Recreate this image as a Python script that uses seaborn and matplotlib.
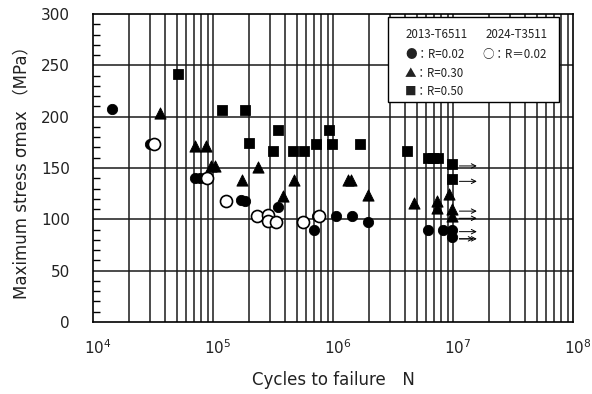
import numpy as np
import pandas as pd
import matplotlib
matplotlib.use("Agg")
import matplotlib.pyplot as plt
import matplotlib.transforms as mtransforms
from matplotlib.patches import Rectangle
import seaborn as sns

# ---- fatigue test results: cycles to failure N, maximum stress (MPa) ----
a2013_r002_N = [1.44e4, 2.98e4, 7.1e4, 7.8e4, 8.6e4, 1.7e5, 1.85e5, 3.46e5, 6.95e5,
                7.4e5, 1.05e6, 1.43e6, 1.95e6, 6.2e6, 8.3e6, 9.75e6, 9.75e6]
a2013_r002_S = [207, 173, 140, 140, 140, 119, 118, 112, 90,
                103, 103, 103, 97, 90, 90, 90, 83]

a2024_r002_N = [3.25e4, 8.9e4, 1.28e5, 2.31e5, 2.89e5, 2.89e5, 3.35e5, 5.66e5, 7.65e5]
a2024_r002_S = [173, 140, 118, 103, 104, 98, 97, 97, 103]

a2013_r030_N = [3.6e4, 7.08e4, 8.7e4, 9.7e4, 1.03e5, 1.73e5, 2.35e5, 3.85e5, 4.76e5,
                1.33e6, 1.41e6, 1.97e6, 4.76e6, 7.4e6, 7.4e6, 9.26e6, 9.75e6, 9.75e6]
a2013_r030_S = [204, 171, 171, 152, 152, 138, 151, 123, 138,
                138, 138, 124, 116, 118, 111, 125, 110, 103]

a2013_r050_N = [5.1e4, 1.18e5, 1.85e5, 2.0e5, 3.14e5, 3.46e5, 4.67e5, 5.77e5, 7.2e5,
                9.3e5, 9.75e5, 1.68e6, 4.16e6, 6.15e6, 6.78e6, 7.46e6, 9.75e6, 9.75e6]
a2013_r050_S = [242, 206.5, 206.5, 174, 167, 187, 167, 167, 173,
                187, 173, 173, 167, 160, 160, 160, 154, 139]

# run-outs (specimens that did not fail): N, stress, number of arrow heads
runout_N = [9.75e6, 9.75e6, 9.75e6, 9.75e6, 9.75e6, 9.75e6]
runout_S = [154, 139, 110, 103, 90, 83]
runout_heads = [1, 1, 1, 1, 1, 2]

series_names = ["2013 R=0.02", "2024 R=0.02", "2013 R=0.30", "2013 R=0.50"]

frames = []
for name, n, s in zip(series_names,
                      [a2013_r002_N, a2024_r002_N, a2013_r030_N, a2013_r050_N],
                      [a2013_r002_S, a2024_r002_S, a2013_r030_S, a2013_r050_S]):
    frames.append(pd.DataFrame({"N": n, "S": s, "series": name}))
df = pd.concat(frames, ignore_index=True)

sns.set_theme(style="ticks")
plt.rcParams["font.family"] = ["DejaVu Sans", "Noto Sans CJK JP"]
plt.rcParams["mathtext.default"] = "regular"
plt.rcParams["text.color"] = "#222222"
plt.rcParams["axes.labelcolor"] = "#222222"
plt.rcParams["xtick.labelcolor"] = "#222222"
plt.rcParams["ytick.labelcolor"] = "#222222"

fig = plt.figure(figsize=(5.92, 3.94), dpi=100)
ax = fig.add_axes([93 / 592, 1 - 322 / 394, 480 / 592, 308 / 394])

ax.set_xscale("log")
ax.set_xlim(1e4, 1e8)
ax.set_ylim(0, 300)

# grid: every log minor line and every 50 MPa
for dec in [1e4, 1e5, 1e6, 1e7]:
    for k in range(1, 10):
        if dec * k > 1e4:
            ax.axvline(dec * k, color="#1a1a1a", lw=1.1, zorder=1)
for yv in [50, 100, 150, 200, 250]:
    ax.axhline(yv, color="#1a1a1a", lw=1.1, zorder=1)

styles = {
    "2013 R=0.02": dict(marker="o", s=55, color="black", edgecolor="black"),
    "2024 R=0.02": dict(marker="o", s=75, color="white", edgecolor="black", linewidth=1.2),
    "2013 R=0.30": dict(marker="^", s=65, color="black", edgecolor="black"),
    "2013 R=0.50": dict(marker="s", s=50, color="black", edgecolor="black"),
}
for name in series_names:
    sub = df[df["series"] == name]
    sns.scatterplot(data=sub, x="N", y="S", ax=ax, legend=False, zorder=3, **styles[name])

# run-out arrows
for n, s, h in zip(runout_N, runout_S, runout_heads):
    for j in range(h):
        ax.annotate("", xy=(1.58e7 - j * 0.09e7, s - 2), xytext=(1.13e7, s - 2),
                    arrowprops=dict(arrowstyle="->", color="black", lw=0.7,
                                    shrinkA=0, shrinkB=0, mutation_scale=8),
                    zorder=4)

# ticks
ax.set_xticks([1e4, 1e5, 1e6, 1e7, 1e8])
ax.set_xticklabels([r"$10^{4}$", r"$10^{5}$", r"$10^{6}$", r"$10^{7}$", r"$10^{8}$"])
ax.xaxis.set_minor_locator(matplotlib.ticker.NullLocator())
ax.set_yticks(np.arange(0, 301, 50))
ax.set_yticks(np.arange(0, 301, 10), minor=True)
ax.tick_params(axis="y", which="major", direction="in", length=0, labelsize=11, pad=16.5)
ax.tick_params(axis="y", which="minor", direction="in", length=5, width=1.0, color="black")
ax.tick_params(axis="x", which="major", direction="in", length=0, labelsize=11, pad=12)
offset = mtransforms.ScaledTranslation(5 / 100, 0, fig.dpi_scale_trans)
for lbl in ax.get_xticklabels():
    lbl.set_transform(lbl.get_transform() + offset)

for sp in ax.spines.values():
    sp.set_color("black")
    sp.set_linewidth(1.2)
    sp.set_visible(True)

ax.set_xlabel("Cycles to failure\u3000N", fontsize=12, labelpad=10)
ax.set_ylabel("Maximum stress σmax （MPa）", fontsize=12, labelpad=8)

# legend box
ax.add_patch(Rectangle((0.615, 0.714), 0.356, 0.276, transform=ax.transAxes,
                       facecolor="white", edgecolor="black", lw=1.0, zorder=5))
lfont = dict(fontsize=8.3, family=["Noto Sans CJK JP"], transform=ax.transAxes,
             zorder=6, va="center")
ax.text(0.715, 0.932, "2013-T6511", ha="center", **lfont)
ax.text(0.882, 0.932, "2024-T3511", ha="center", **lfont)
ax.text(0.650, 0.867, "●：R=0.02", ha="left", **lfont)
ax.text(0.812, 0.867, "○：R＝0.02", ha="left", **lfont)
ax.text(0.650, 0.807, "▲：R=0.30", ha="left", **lfont)
ax.text(0.650, 0.748, "■：R=0.50", ha="left", **lfont)

fig.savefig("out.png", dpi=100)
